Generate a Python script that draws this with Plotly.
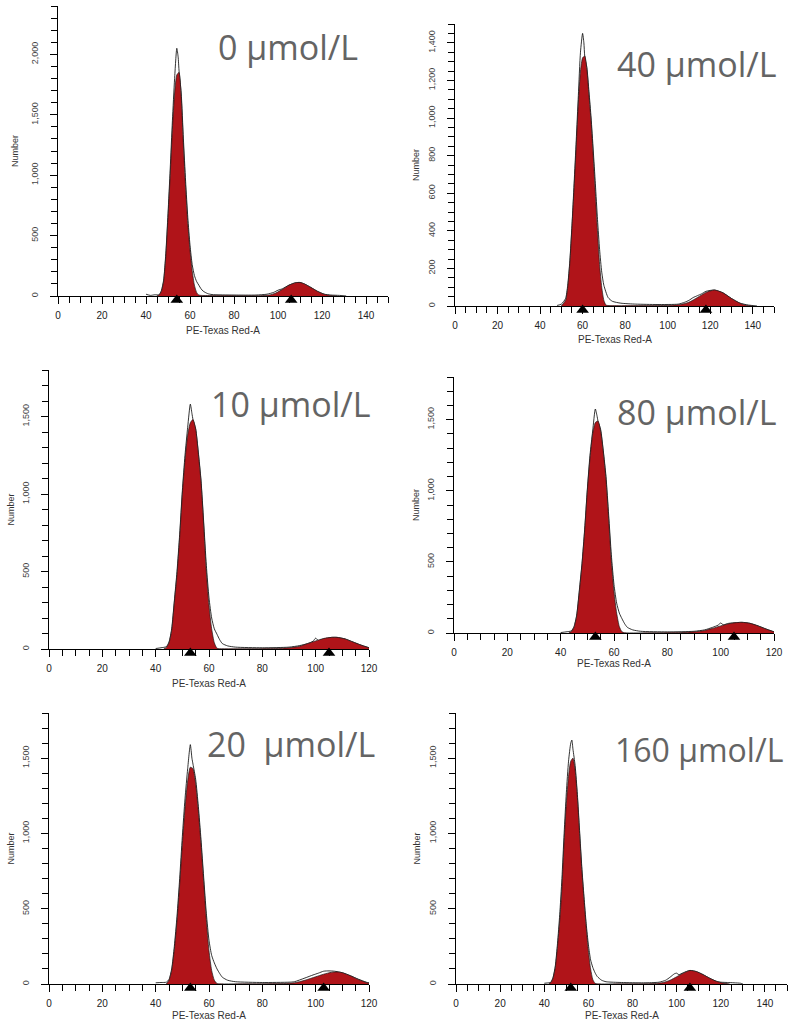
import plotly.graph_objects as go

# ---------------- data ----------------
labels = ["0 μmol/L", "40 μmol/L", "10 μmol/L", "80 μmol/L", "20\u00a0 μmol/L", "160 μmol/L"]
x_max = [150, 150, 120, 120, 120, 150]
y_max = [2400, 1500, 1800, 1800, 1800, 1800]
y_major = [500, 200, 500, 500, 500, 500]
y_minor = [100, 50, 100, 100, 100, 100]

# panel 1 : 0 umol/L
raw1_x = [40, 42, 44, 46, 47, 48, 49, 50, 51, 52, 53, 54, 54.6, 55, 56, 57, 58, 59, 60, 61, 62, 63, 64, 65, 66, 68, 70, 80, 90, 95, 98, 100, 102, 105, 108, 110, 112, 115, 118, 121, 124, 128, 131]
raw1_y = [15, 5, 10, 10, 45, 130, 350, 680, 1050, 1450, 1800, 2050, 1980, 1870, 1680, 1300, 950, 650, 420, 260, 170, 120, 90, 60, 40, 20, 12, 8, 8, 15, 30, 48, 60, 90, 110, 112, 100, 70, 38, 15, 8, 5, 0]
fit1_x = [45, 46, 47, 48, 49, 50, 51, 52, 53, 54, 55, 56, 57, 58, 59, 60, 61, 62, 63, 64, 68, 80, 92, 96, 99, 102, 105, 108, 110, 112, 115, 118, 121, 124, 127]
fit1_y = [0, 10, 40, 120, 330, 650, 1000, 1380, 1680, 1830, 1850, 1650, 1250, 900, 600, 380, 210, 90, 30, 8, 4, 3, 3, 8, 25, 55, 90, 110, 112, 100, 70, 38, 15, 4, 0]

# panel 2 : 40 umol/L
raw2_x = [48, 50, 52, 53, 54, 55, 56, 57, 58, 59, 60, 60.6, 61, 62, 63, 64, 65, 66, 67, 68, 69, 70, 72, 74, 78, 85, 95, 105, 108, 110, 112, 114, 116, 118, 122, 126, 130, 134, 138, 142]
raw2_y = [3, 10, 40, 110, 240, 430, 650, 880, 1120, 1350, 1450, 1400, 1330, 1270, 1140, 1000, 830, 650, 460, 300, 180, 110, 45, 25, 15, 10, 8, 10, 20, 30, 45, 55, 65, 78, 85, 70, 40, 15, 5, 0]
fit2_x = [50, 52, 53, 54, 55, 56, 57, 58, 59, 60, 61, 62, 63, 64, 65, 66, 67, 68, 69, 70, 71, 73, 90, 100, 106, 110, 114, 118, 122, 126, 130, 134, 137, 140]
fit2_y = [0, 30, 100, 230, 420, 630, 850, 1080, 1250, 1320, 1330, 1260, 1120, 980, 800, 600, 400, 220, 100, 30, 5, 2, 2, 3, 8, 20, 45, 72, 85, 70, 40, 15, 4, 0]

# panel 3 : 10 umol/L
raw3_x = [40, 42, 44, 45, 46, 47, 48, 49, 50, 51, 52, 53, 53.6, 54, 55, 56, 57, 58, 59, 60, 61, 62, 63, 64, 65, 67, 70, 80, 90, 94, 97, 99, 100, 101, 103, 106, 108, 111, 114, 117, 120]
raw3_y = [3, 8, 15, 45, 130, 310, 500, 740, 1020, 1250, 1430, 1580, 1520, 1480, 1420, 1270, 1090, 820, 540, 330, 200, 130, 95, 60, 35, 20, 12, 8, 12, 22, 35, 50, 70, 55, 65, 75, 75, 65, 45, 25, 8]
fit3_x = [43, 44, 45, 46, 47, 48, 49, 50, 51, 52, 53, 54, 55, 56, 57, 58, 59, 60, 61, 62, 63, 64, 75, 85, 90, 94, 97, 100, 103, 106, 108, 111, 114, 117, 120]
fit3_y = [0, 10, 40, 120, 300, 480, 720, 1000, 1220, 1380, 1460, 1480, 1420, 1260, 1080, 800, 500, 280, 130, 40, 5, 2, 2, 3, 8, 18, 35, 52, 68, 75, 75, 65, 45, 25, 8]

# panel 4 : 80 umol/L
raw4_x = [40, 42, 44, 45, 46, 47, 48, 49, 50, 51, 52, 53, 53.6, 54, 55, 56, 57, 58, 59, 60, 61, 62, 63, 64, 65, 67, 70, 80, 90, 94, 97, 99, 100, 101, 103, 106, 108, 111, 114, 117, 120]
raw4_y = [3, 8, 15, 45, 125, 300, 490, 730, 1010, 1250, 1420, 1575, 1530, 1490, 1430, 1280, 1100, 830, 550, 340, 210, 140, 100, 65, 40, 22, 12, 8, 12, 22, 40, 55, 70, 58, 68, 73, 75, 68, 50, 28, 8]
fit4_x = [43, 44, 45, 46, 47, 48, 49, 50, 51, 52, 53, 54, 55, 56, 57, 58, 59, 60, 61, 62, 63, 64, 75, 85, 90, 94, 97, 100, 103, 106, 108, 111, 114, 117, 120]
fit4_y = [0, 10, 40, 120, 290, 480, 720, 1000, 1230, 1400, 1480, 1490, 1420, 1270, 1080, 800, 510, 290, 140, 45, 8, 2, 2, 3, 8, 18, 33, 50, 65, 73, 75, 68, 50, 28, 8]

# panel 5 : 20 umol/L
raw5_x = [40, 42, 44, 45, 46, 47, 48, 49, 50, 51, 52, 53, 53.6, 54, 55, 56, 57, 58, 59, 60, 61, 62, 63, 64, 65, 67, 70, 80, 90, 92, 96, 99, 101, 103, 105, 107, 110, 113, 116, 119, 120]
raw5_y = [8, 10, 12, 30, 100, 250, 450, 700, 980, 1230, 1430, 1590, 1500, 1460, 1360, 1180, 960, 710, 470, 290, 190, 140, 100, 70, 45, 25, 15, 10, 12, 15, 40, 60, 72, 85, 87, 85, 75, 55, 32, 12, 8]
fit5_x = [44, 45, 46, 47, 48, 49, 50, 51, 52, 53, 54, 55, 56, 57, 58, 59, 60, 61, 62, 63, 64, 75, 88, 92, 96, 100, 103, 106, 108, 110, 113, 116, 119, 120]
fit5_y = [0, 25, 90, 230, 420, 660, 930, 1170, 1350, 1440, 1430, 1330, 1150, 930, 680, 430, 220, 90, 25, 3, 1, 2, 3, 8, 25, 48, 65, 78, 80, 75, 55, 30, 10, 5]

# panel 6 : 160 umol/L
raw6_x = [40, 42, 43, 44, 45, 46, 47, 48, 49, 50, 51, 52, 52.5, 53, 54, 55, 56, 57, 58, 59, 60, 61, 62, 63, 64, 66, 68, 75, 85, 92, 95, 97, 99, 100, 101, 103, 106, 109, 112, 115, 118, 120, 123, 126, 129, 130]
raw6_y = [5, 8, 12, 45, 120, 270, 460, 700, 1000, 1270, 1480, 1600, 1620, 1560, 1450, 1260, 1020, 780, 580, 400, 260, 160, 110, 75, 50, 25, 15, 10, 8, 12, 25, 45, 68, 72, 62, 75, 90, 82, 62, 38, 18, 12, 10, 8, 5, 0]
fit6_x = [42, 43, 44, 45, 46, 47, 48, 49, 50, 51, 52, 53, 54, 55, 56, 57, 58, 59, 60, 61, 62, 63, 64, 75, 90, 94, 97, 100, 103, 106, 109, 112, 115, 118, 121, 124]
fit6_y = [0, 10, 40, 110, 250, 420, 640, 950, 1200, 1380, 1480, 1500, 1420, 1240, 1000, 760, 560, 380, 220, 100, 30, 5, 1, 2, 3, 10, 25, 48, 72, 90, 82, 62, 38, 18, 6, 0]

# peak markers (channel positions of G1 / G2 peaks)
mark_x = [[54, 106], [60, 118], [53, 105], [53, 105], [53, 103], [52, 106]]

raws = [(raw1_x, raw1_y), (raw2_x, raw2_y), (raw3_x, raw3_y), (raw4_x, raw4_y), (raw5_x, raw5_y), (raw6_x, raw6_y)]
fits = [(fit1_x, fit1_y), (fit2_x, fit2_y), (fit3_x, fit3_y), (fit4_x, fit4_y), (fit5_x, fit5_y), (fit6_x, fit6_y)]

# ---------------- layout (pixel boxes) ----------------
W, H = 790, 1026
# (left, right, top, bottom) of each plot area in pixels
boxes = [(58, 388, 6, 296), (455, 774, 24, 306), (49, 369, 370, 649),
         (454, 774, 377, 633), (49, 369, 713, 984), (456, 787, 713, 984)]
label_pos = [(216, 47), (615, 64), (209, 404), (615, 412), (205, 744), (613, 749)]
label_size = [34, 34, 34, 34, 34, 32]
number_x = [15, 416, 10, 416, 10, 416]
xtitle_y = [330, 339, 683, 663, 1015, 1015]

RED = "#B01419"
AX_FONT = "Liberation Sans, Arial, sans-serif"

fig = go.Figure()
layout = dict(width=W, height=H, margin=dict(l=0, r=0, t=0, b=0, autoexpand=False),
              paper_bgcolor="white", plot_bgcolor="white", showlegend=False)
annotations = []

for i in range(6):
    n = "" if i == 0 else str(i + 1)
    xa, ya = "x" + n, "y" + n
    l, r, t, b = boxes[i]
    rx, ry = raws[i]
    fx, fy = fits[i]
    fig.add_trace(go.Scatter(x=rx, y=ry, xaxis=xa, yaxis=ya, mode="lines",
                             line=dict(color="black", width=0.8, shape="spline", smoothing=0.6),
                             fill="tozeroy", fillcolor="white", hoverinfo="skip"))
    fig.add_trace(go.Scatter(x=fx, y=fy, xaxis=xa, yaxis=ya, mode="lines",
                             line=dict(color="#1a1a1a", width=0.7, shape="spline", smoothing=0.6),
                             fill="tozeroy", fillcolor=RED, hoverinfo="skip"))
    layout["xaxis" + n] = dict(
        domain=[l / W, r / W], anchor=ya, range=[0, x_max[i]], automargin=False,
        showline=True, linecolor="black", linewidth=1, showgrid=False, zeroline=False,
        ticks="outside", ticklen=7, tickwidth=1, tickcolor="black", dtick=20, tick0=0,
        minor=dict(dtick=5, tick0=0, ticks="outside", ticklen=6, tickwidth=1, tickcolor="black"),
        tickfont=dict(family=AX_FONT, size=10, color="#222"), ticklabelstandoff=3)
    layout["yaxis" + n] = dict(
        domain=[1 - b / H, 1 - t / H], anchor=xa, range=[0, y_max[i]], automargin=False,
        showline=True, linecolor="black", linewidth=1, showgrid=False, zeroline=False,
        ticks="outside", ticklen=7, tickwidth=1, tickcolor="black", dtick=y_major[i], tick0=0,
        minor=dict(dtick=y_minor[i], tick0=0, ticks="outside", ticklen=6, tickwidth=1, tickcolor="black"),
        tickformat=",", tickangle=-90, ticklabelstandoff=8,
        tickfont=dict(family=AX_FONT, size=9, color="#444"))

    # thin strip just below the x axis that carries the peak markers
    k = str(7 + i)
    layout["xaxis" + k] = dict(domain=[l / W, r / W], anchor="y" + k, range=[0, x_max[i]],
                               visible=False, automargin=False)
    layout["yaxis" + k] = dict(domain=[1 - (b + 10) / H, 1 - b / H], anchor="x" + k,
                               range=[0, 1], visible=False, automargin=False)
    fig.add_trace(go.Scatter(x=mark_x[i], y=[0.6] * len(mark_x[i]), xaxis="x" + k, yaxis="y" + k,
                             mode="markers", cliponaxis=False,
                             marker=dict(symbol="triangle-up", size=11, color="black"),
                             hoverinfo="skip"))

    annotations.append(dict(text=labels[i], xref="paper", yref="paper",
                            x=label_pos[i][0] / W, y=1 - label_pos[i][1] / H,
                            xanchor="left", yanchor="middle", showarrow=False,
                            font=dict(family="Open Sans", size=label_size[i], color="#646464")))
    annotations.append(dict(text="Number", xref="paper", yref="paper", textangle=-90,
                            x=number_x[i] / W, y=1 - (t + b) / 2 / H,
                            xanchor="center", yanchor="middle", showarrow=False,
                            font=dict(family=AX_FONT, size=9, color="#333")))
    annotations.append(dict(text="PE-Texas Red-A", xref="paper", yref="paper",
                            x=(l + (r - l) * 0.5) / W, y=1 - xtitle_y[i] / H,
                            xanchor="center", yanchor="middle", showarrow=False,
                            font=dict(family=AX_FONT, size=10, color="#333")))

layout["annotations"] = annotations
fig.update_layout(**layout)
fig.write_html("out.html", config={"displayModeBar": False},
               post_script="document.body.style.margin='0';document.body.style.overflow='hidden';")
